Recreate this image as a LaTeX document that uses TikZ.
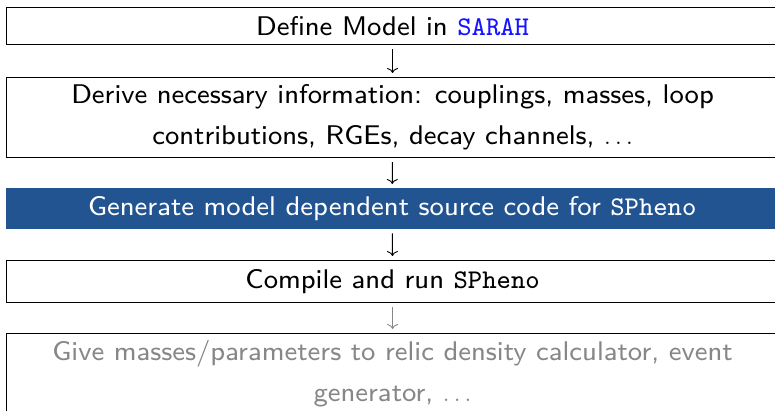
\documentclass[tikz,border=0pt]{standalone}
\usepackage{fontspec}
\setsansfont{lmsans8-regular.otf}
\setmonofont{lmmono8-regular.otf}
\usetikzlibrary{arrows.meta}
\definecolor{hlblue}{RGB}{33,84,144}
\definecolor{fadegray}{RGB}{135,135,135}
\definecolor{sarahblue}{RGB}{20,20,255}
\begin{document}
\begin{tikzpicture}[x=1pt,y=-1pt,
  txt/.style={font=\sffamily\fontsize{27}{41}\selectfont, align=center},
  stepbox/.style={txt, draw=black, line width=1.1pt, minimum width=772pt,
    anchor=north west, inner sep=0pt},
  hlbox/.style={txt, fill=hlblue, text=white, minimum width=772pt,
    anchor=north west, inner sep=0pt},
  down/.style={-{To[length=5pt,width=11pt]}, line width=0.9pt, shorten <=4pt, shorten >=4pt},
]
\useasboundingbox (0,0) rectangle (775,411);
\clip (0,0) rectangle (775,411);
\node[stepbox, minimum height=37pt] (b1) at (6,7) {Define Model in \textcolor{sarahblue}{\ttfamily SARAH}};
\node[stepbox, minimum height=80pt] (b2) at (6,77) {Derive necessary information: couplings, masses, loop\\contributions, RGEs, decay channels, $\ldots$};
\node[hlbox, minimum height=41pt] (b3) at (6,188) {Generate model dependent source code for {\ttfamily SPheno}};
\node[stepbox, minimum height=42pt] (b4) at (6,260) {Compile and run {\ttfamily SPheno}};
\node[stepbox, minimum height=90pt] (b5) at (6,333) {};
\node[txt, text=fadegray, anchor=center] (t5) at ([yshift=-41pt]b5.north) {Give masses/parameters to relic density calculator, event\\generator, $\ldots$};
\draw[down] (b1) -- (b2);
\draw[down] (b2) -- (b3);
\draw[down] (b3) -- (b4);
\draw[down, draw=fadegray] (b4) -- (b5);
\end{tikzpicture}
\end{document}
